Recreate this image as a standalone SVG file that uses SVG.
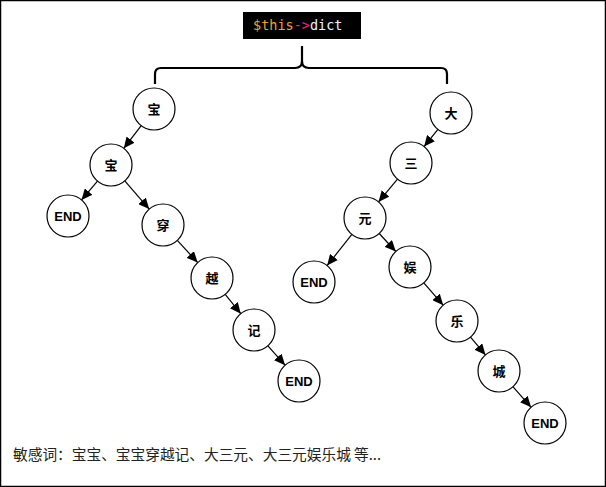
<svg xmlns="http://www.w3.org/2000/svg" width="606" height="487" viewBox="0 0 606 487">
  <style>
    .node circle { fill: #ffffff; stroke: #000000; stroke-width: 1.2; }
    .node text { font-family: "Liberation Sans", "Noto Sans CJK SC", sans-serif; font-size: 13px; font-weight: bold; fill: #000000; text-anchor: middle; dominant-baseline: central; }
    .edge { stroke: #000000; stroke-width: 1.2; fill: none; marker-end: url(#arrow); }
    .brace { stroke: #000000; stroke-width: 2.2; fill: none; }
    .code { font-family: "DejaVu Sans Mono", "Liberation Mono", monospace; font-size: 13.5px; }
    .caption { font-family: "Noto Sans CJK SC", sans-serif; font-size: 14.7px; fill: #222222; }
  </style>
  <defs>
    <marker id="arrow" markerUnits="userSpaceOnUse" markerWidth="12" markerHeight="10" refX="11" refY="5" orient="auto">
      <path d="M0,0 L11,5 L0,10 Z" fill="#000000"/>
    </marker>
  </defs>
  <rect x="0.5" y="0.5" width="605" height="486" fill="#ffffff" stroke="#000000" stroke-width="1.5"/>

  <g id="header">
    <rect x="243" y="12" width="118" height="27" fill="#000000"/>
    <text x="253" y="30" class="code"><tspan fill="#f0a030">$this</tspan><tspan fill="#f92672">-&gt;</tspan><tspan fill="#eaf4ff">dict</tspan></text>
  </g>

  <g id="brace">
    <path class="brace" d="M155,84 V74 Q155,68 161,68 H295 Q302,68 302,61 V46 M302,61 Q302,68 309,68 H441 Q447,68 447,74 V84"/>
  </g>

  <g id="connectors">
    <line class="edge" x1="141.2" y1="125.7" x2="123.8" y2="148.3"/>
    <line class="edge" x1="97.5" y1="181.1" x2="81.5" y2="199.9"/>
    <line class="edge" x1="124.8" y1="180.9" x2="149.2" y2="209.1"/>
    <line class="edge" x1="177.3" y1="240.4" x2="197.7" y2="262.6"/>
    <line class="edge" x1="225.2" y1="294.3" x2="240.8" y2="313.7"/>
    <line class="edge" x1="267.9" y1="345.8" x2="285.1" y2="365.2"/>
    <line class="edge" x1="437.9" y1="129.4" x2="424.1" y2="146.6"/>
    <line class="edge" x1="397.5" y1="179.1" x2="378.5" y2="201.9"/>
    <line class="edge" x1="351.9" y1="234.4" x2="327.1" y2="265.6"/>
    <line class="edge" x1="379.2" y1="233.5" x2="395.8" y2="251.5"/>
    <line class="edge" x1="423.8" y1="282.8" x2="443.2" y2="305.2"/>
    <line class="edge" x1="470.5" y1="337.1" x2="485.5" y2="354.9"/>
    <line class="edge" x1="512.9" y1="386.7" x2="531.1" y2="407.3"/>
  </g>

  <g id="n-bao1" class="node"><circle cx="154" cy="109" r="21"/><text x="154" y="109">宝</text></g>
  <g id="n-bao2" class="node"><circle cx="111" cy="165" r="21"/><text x="111" y="165">宝</text></g>
  <g id="n-end1" class="node"><circle cx="68" cy="216" r="21"/><text x="68" y="216">END</text></g>
  <g id="n-chuan" class="node"><circle cx="163" cy="225" r="21"/><text x="163" y="225">穿</text></g>
  <g id="n-yue" class="node"><circle cx="212" cy="278" r="21"/><text x="212" y="278">越</text></g>
  <g id="n-ji" class="node"><circle cx="254" cy="330" r="21"/><text x="254" y="330">记</text></g>
  <g id="n-end2" class="node"><circle cx="299" cy="381" r="21"/><text x="299" y="381">END</text></g>

  <g id="n-da" class="node"><circle cx="451" cy="113" r="21"/><text x="451" y="113">大</text></g>
  <g id="n-san" class="node"><circle cx="411" cy="163" r="21"/><text x="411" y="163">三</text></g>
  <g id="n-yuan" class="node"><circle cx="365" cy="218" r="21"/><text x="365" y="218">元</text></g>
  <g id="n-end3" class="node"><circle cx="314" cy="282" r="21"/><text x="314" y="282">END</text></g>
  <g id="n-yu" class="node"><circle cx="410" cy="267" r="21"/><text x="410" y="267">娱</text></g>
  <g id="n-le" class="node"><circle cx="457" cy="321" r="21"/><text x="457" y="321">乐</text></g>
  <g id="n-cheng" class="node"><circle cx="499" cy="371" r="21"/><text x="499" y="371">城</text></g>
  <g id="n-end4" class="node"><circle cx="545" cy="423" r="21"/><text x="545" y="423">END</text></g>

  <text id="caption" class="caption" x="13" y="460">敏感词：宝宝、宝宝穿越记、大三元、大三元娱乐城 等...</text>
</svg>
